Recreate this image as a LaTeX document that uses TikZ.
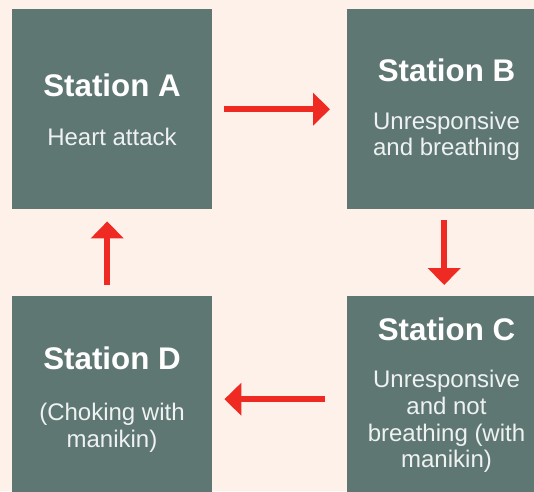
\documentclass[tikz,border=0pt]{standalone}
\usepackage{fontspec}
\setmainfont{Liberation Sans}
\usetikzlibrary{arrows.meta}
\definecolor{bgc}{HTML}{FEF1E9}
\definecolor{boxc}{HTML}{5F7773}
\definecolor{redc}{HTML}{EE2A23}
\definecolor{subc}{HTML}{EEF2F1}
\tikzset{
  stationbox/.style={rectangle, fill=boxc, draw=none, minimum width=200pt, minimum height=200pt, inner sep=0pt, anchor=north west},
  titletext/.style={anchor=base, inner sep=0pt, text=white, font=\bfseries\fontsize{31.3}{36}\selectfont},
  subtext/.style={anchor=base, inner sep=0pt, text=subc, font=\fontsize{24}{27}\selectfont},
  flow/.style={draw=redc, line width=6pt, -{Triangle[width=32pt,length=17pt]}}
}
\begin{document}
\begin{tikzpicture}[x=1pt,y=-1pt]
\useasboundingbox (0,0) rectangle (534,491);
\clip (0,0) rectangle (534,491);
\fill[bgc] (0,0) rectangle (534,491);
\node[stationbox] (a) at (12,9) {};
\node[stationbox] (b) at (347,9) {};
\node[stationbox] (c) at (347,296) {};
\node[stationbox] (d) at (12,296) {};
% texts
\node[titletext] (at) at (112,96) {Station A};
\node[subtext] (as1) at (112,145) {Heart attack};
\node[titletext] (bt) at (446.5,81) {Station B};
\node[subtext] (bs1) at (446.5,129) {Unresponsive};
\node[subtext] (bs2) at (446.5,155) {and breathing};
\node[titletext] (ct) at (446.5,340) {Station C};
\node[subtext] (cs1) at (446.5,387) {Unresponsive};
\node[subtext] (cs2) at (446.5,414) {and not};
\node[subtext] (cs3) at (446.5,441) {breathing (with};
\node[subtext] (cs4) at (446.5,467) {manikin)};
\node[titletext] (dt) at (112,369) {Station D};
\node[subtext] (ds1) at (112,420) {(Choking with};
\node[subtext] (ds2) at (112,447) {manikin)};
% arrows
\draw[flow, shorten <=12pt, shorten >=17pt] (a.east) -- (b.west);
\draw[flow, shorten <=11pt, shorten >=11pt] ([xshift=-3pt]b.south) -- ([xshift=-3pt]c.north);
\draw[flow, shorten <=22pt, shorten >=12pt] ([yshift=-3pt]c.west) -- ([yshift=-3pt]d.east);
\draw[flow, shorten <=11pt, shorten >=12pt] ([xshift=-5pt]d.north) -- ([xshift=-5pt]a.south);
\end{tikzpicture}
\end{document}
